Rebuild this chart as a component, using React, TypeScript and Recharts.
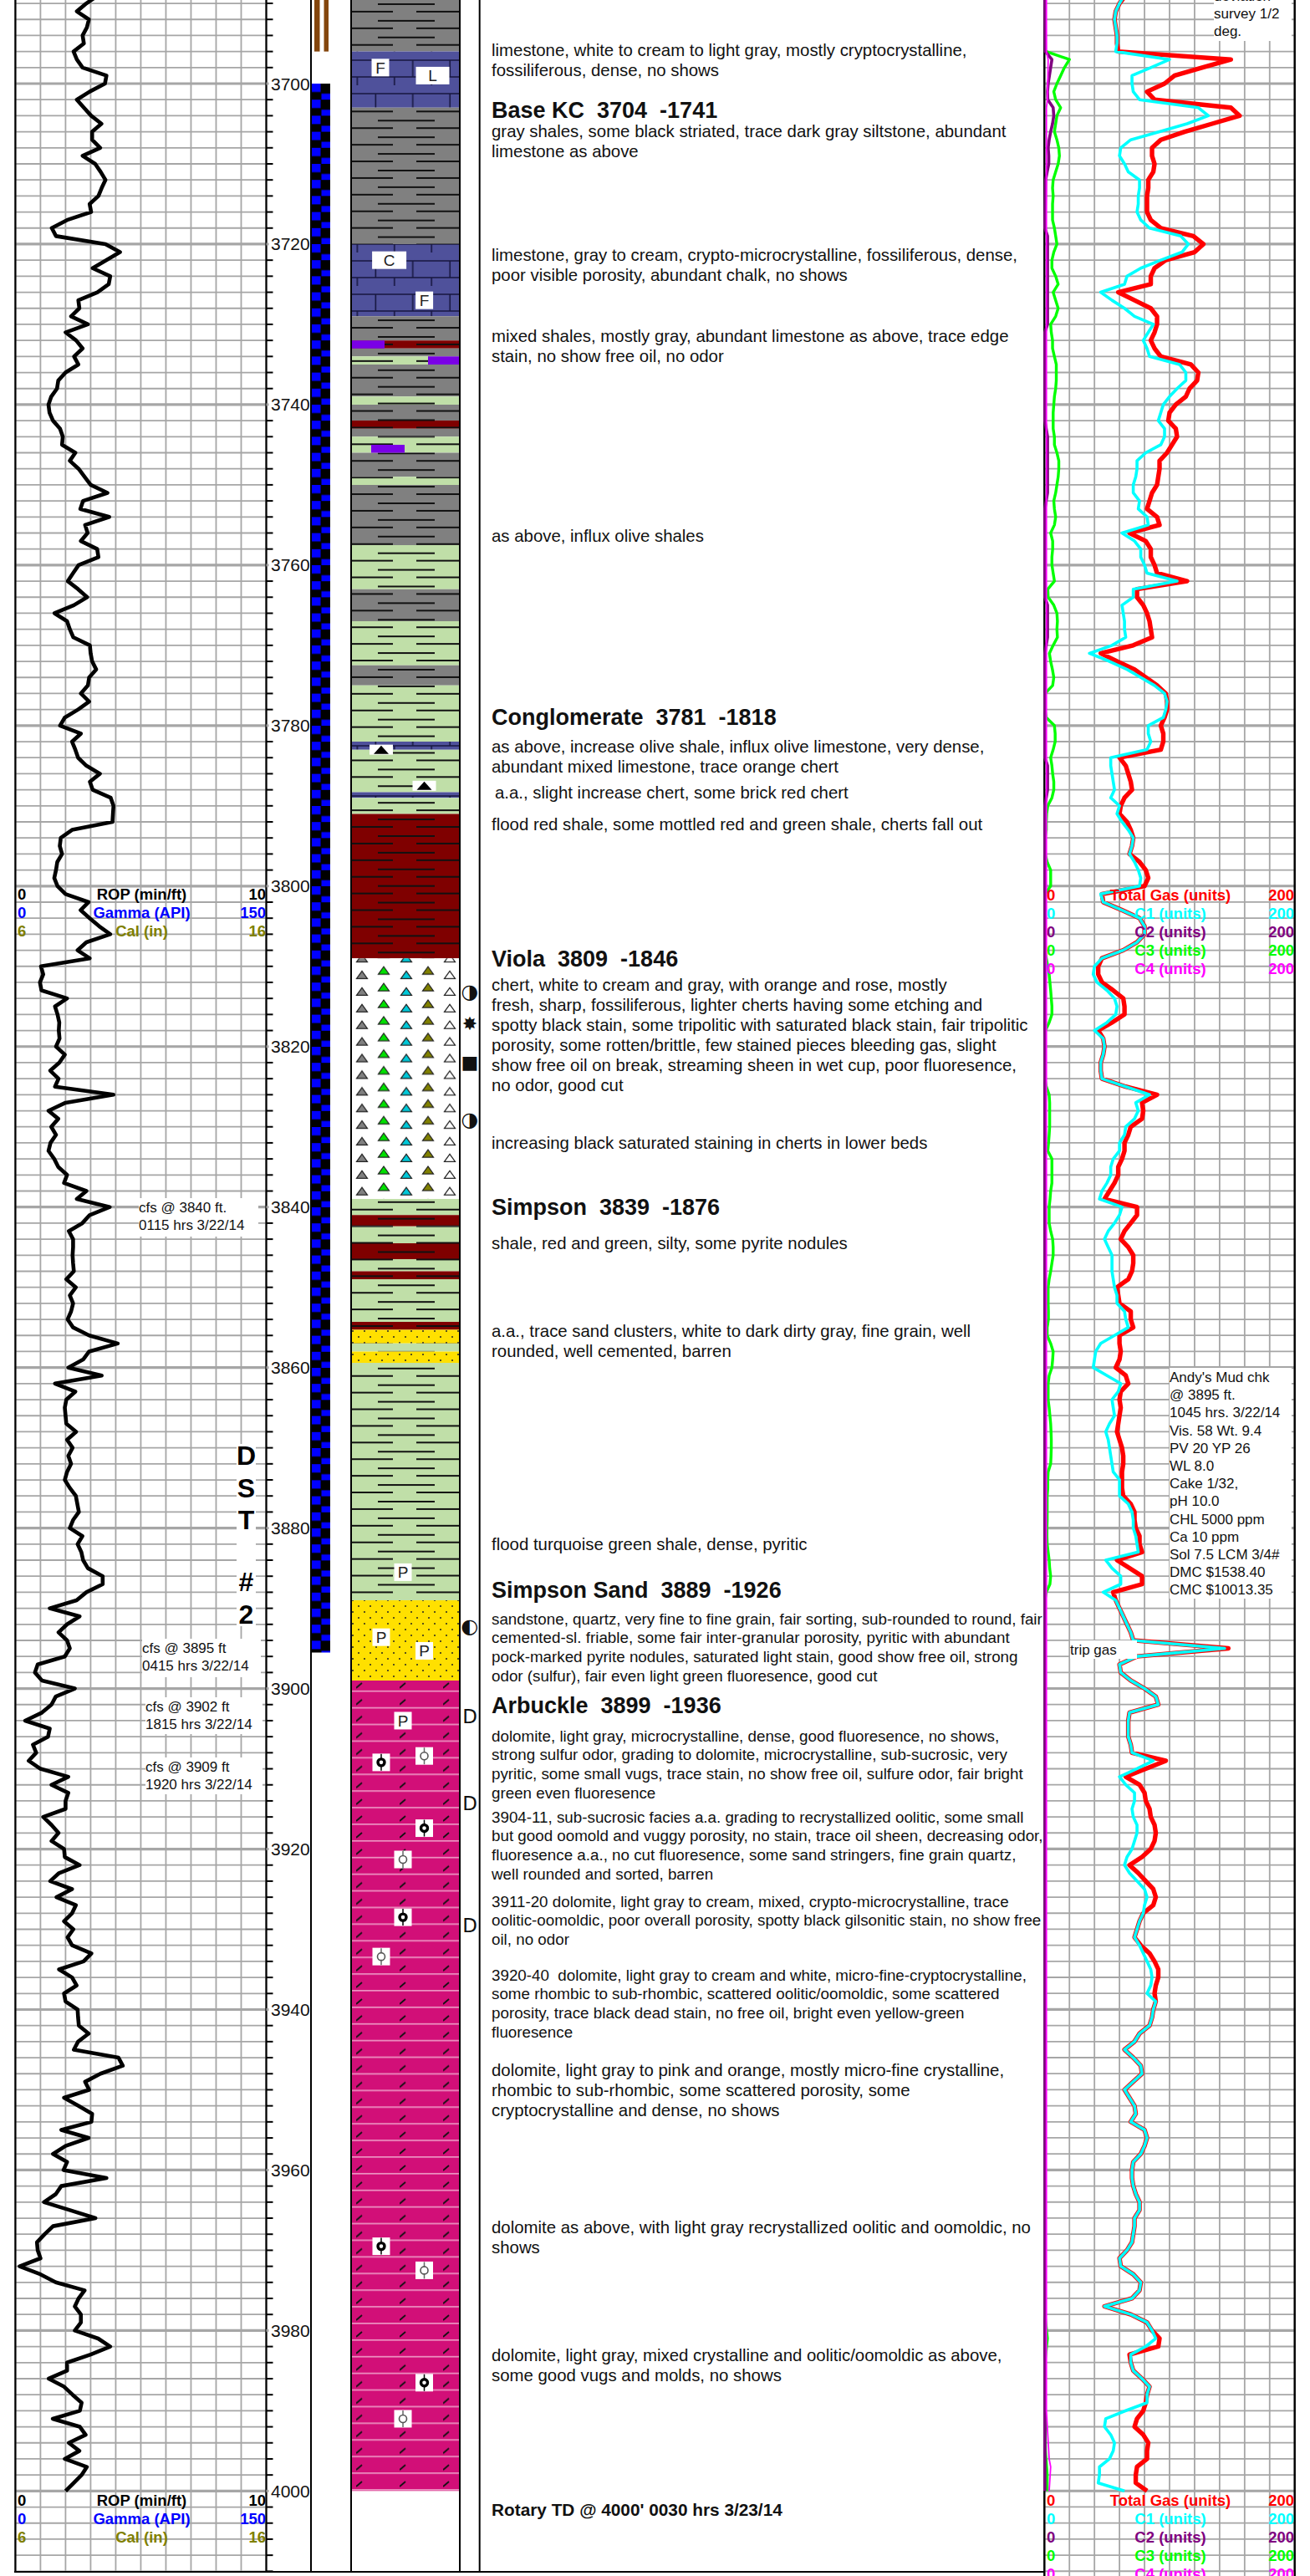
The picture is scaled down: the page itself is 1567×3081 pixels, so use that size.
import {
  CartesianGrid,
  Line,
  LineChart,
  ReferenceArea,
  ReferenceDot,
  ReferenceLine,
  XAxis,
  YAxis,
} from "recharts";

// one value per foot, first value is at the given start depth
const ropStart = 3689;
const rop = [
  3.3,
  2.83, 2.45, 2.93, 2.85, 2.68, 2.73, 2.32, 2.45, 2.68, 3.63,
  3.57, 2.96, 2.45, 2.73, 3.02, 3.43, 3.06, 3.06, 3.38, 2.68,
  3.18, 3.4, 3.59, 3.44, 3.31, 2.96, 3.02, 2.06, 1.45, 1.62,
  3.59, 4.17, 3.62, 3.08, 3.78, 3.72, 3.27, 2.51, 2.55, 2.22,
  2.89, 2.0, 2.42, 2.68, 2.34, 2.51, 2.0, 1.71, 1.66, 1.43,
  1.32, 1.36, 1.5, 1.78, 1.89, 1.86, 2.39, 2.17, 2.52, 2.76,
  3.0, 3.67, 2.7, 2.59, 3.74, 2.78, 2.88, 2.61, 3.26, 3.31,
  2.52, 2.3, 2.09, 2.5, 2.86, 2.33, 1.56, 2.06, 2.17, 2.31,
  2.97, 3.0, 3.06, 3.22, 2.94, 2.89, 2.61, 2.94, 2.5, 1.97,
  1.78, 2.61, 2.26, 2.39, 2.5, 2.83, 3.37, 2.97, 3.08, 3.8,
  3.91, 3.89, 3.87, 2.26, 1.81, 1.77, 1.86, 1.67, 1.62, 1.55,
  1.68, 2.0, 2.92, 2.6, 2.96, 3.34, 3.78, 2.83, 2.48, 2.96,
  1.02, 1.11, 0.98, 1.04, 2.06, 1.58, 1.68, 1.75, 1.73, 1.76,
  1.62, 1.97, 1.75, 1.39, 1.72, 1.58, 3.91, 2.0, 1.32, 1.71,
  1.43, 1.62, 1.4, 1.32, 1.55, 1.71, 2.06, 1.94, 2.83, 2.45,
  3.76, 2.96, 2.67, 2.13, 2.3, 2.3, 2.28, 2.3, 2.33, 2.03,
  2.41, 2.17, 2.3, 2.22, 2.08, 2.3, 2.94, 4.08, 2.94, 2.7,
  2.11, 3.44, 1.58, 2.39, 2.03, 1.97, 2.0, 2.03, 2.42, 2.06,
  2.28, 2.11, 2.22, 2.06, 1.97, 2.17, 2.41, 2.47, 2.53, 2.3,
  2.17, 2.67, 2.48, 2.63, 2.7, 2.89, 3.48, 3.48, 2.83, 2.44,
  1.37, 2.56, 2.06, 1.72, 2.06, 2.17, 1.97, 0.89, 0.78, 1.06,
  2.37, 1.61, 1.44, 1.06, 0.39, 1.37, 1.3, 0.7, 0.83, 0.53,
  1.0, 2.11, 1.44, 2.11, 2.0, 2.0, 1.11, 1.44, 1.72, 1.44,
  1.94, 1.97, 2.56, 1.74, 1.39, 2.26, 1.64, 2.41, 2.26, 1.94,
  2.31, 2.08, 2.26, 3.03, 2.72, 1.74, 2.26, 2.44, 1.94, 2.0,
  2.48, 2.5, 2.53, 2.92, 2.5, 2.33, 4.11, 4.28, 3.39, 2.78,
  2.94, 1.94, 2.52, 3.06, 3.03, 1.83, 2.92, 2.0, 1.5, 2.06,
  1.92, 3.63, 1.83, 1.61, 1.14, 2.17, 3.19, 1.5, 1.17, 0.86,
  0.89, 1.0, 0.17, 1.0, 1.61, 2.76, 2.52, 2.37, 2.61, 2.61,
  2.37, 3.3, 3.78, 3.0, 2.06, 2.06, 1.33, 1.94, 2.28, 2.64,
  2.57, 1.49, 2.57, 2.8, 2.13, 2.55, 1.97, 2.85, 2.64, 2.32,
  2.0,
];

const totalGas = [
  65,
  60, 57, 56, 57, 58, 58, 59, 149, 126, 104,
  96, 82, 88, 149, 156, 134, 112, 93, 86, 86,
  88, 87, 83, 83, 82, 82, 82, 85, 93, 119,
  127, 120, 97, 88, 85, 85, 59, 72, 85, 90,
  90, 88, 85, 88, 93, 117, 123, 122, 116, 113,
  105, 100, 99, 105, 106, 102, 98, 92, 92, 91,
  90, 86, 84, 82, 90, 92, 68, 81, 85, 85,
  88, 90, 114, 74, 74, 79, 82, 84, 85, 86,
  71, 45, 58, 72, 81, 90, 97, 98, 98, 96,
  93, 95, 95, 93, 60, 65, 67, 69, 70, 64,
  61, 60, 66, 69, 71, 70, 68, 76, 81, 83,
  80, 46, 47, 62, 76, 80, 80, 74, 63, 46,
  43, 43, 46, 55, 63, 64, 64, 54, 43, 47,
  48, 47, 45, 45, 46, 65, 90, 78, 79, 78,
  69, 67, 64, 64, 62, 59, 59, 56, 52, 48,
  74, 74, 69, 64, 61, 67, 71, 71, 70, 67,
  58, 59, 60, 69, 69, 71, 60, 60, 61, 60,
  57, 65, 67, 61, 60, 61, 60, 59, 58, 60,
  62, 63, 63, 62, 62, 62, 63, 69, 72, 72,
  73, 76, 76, 78, 58, 68, 78, 78, 55, 57,
  60, 63, 66, 69, 71, 147, 74, 60, 61, 69,
  80, 89, 91, 68, 67, 67, 67, 69, 70, 97,
  81, 65, 76, 80, 81, 84, 85, 88, 89, 88,
  85, 78, 68, 75, 81, 87, 89, 87, 79, 76,
  74, 72, 77, 84, 88, 91, 91, 89, 88, 89,
  87, 86, 84, 76, 72, 64, 71, 77, 78, 71,
  64, 68, 72, 73, 69, 80, 82, 80, 77, 71,
  70, 70, 71, 73, 76, 76, 72, 72, 71, 70,
  66, 60, 61, 71, 77, 76, 70, 48, 69, 82,
  86, 92, 91, 68, 69, 71, 78, 84, 82, 81,
  79, 74, 72, 79, 83, 82, 82, 74, 73, 73,
  82,
];

const c1 = [
  64,
  60, 57, 56, 57, 58, 58, 57, 100, 85, 70,
  70, 71, 76, 123, 131, 114, 92, 69, 61, 60,
  64, 67, 76, 76, 75, 75, 74, 77, 84, 109,
  115, 110, 93, 77, 66, 64, 45, 54, 64, 72,
  87, 83, 79, 82, 84, 108, 113, 113, 106, 100,
  95, 93, 91, 96, 96, 93, 81, 74, 74, 73,
  71, 71, 76, 75, 82, 83, 62, 72, 77, 77,
  80, 82, 106, 71, 71, 62, 63, 64, 64, 65,
  54, 36, 52, 66, 77, 88, 96, 98, 97, 95,
  83, 83, 85, 82, 53, 53, 54, 55, 56, 53,
  60, 58, 62, 67, 71, 70, 68, 72, 75, 77,
  76, 45, 47, 62, 76, 80, 80, 74, 63, 46,
  40, 39, 42, 50, 56, 58, 57, 50, 40, 47,
  48, 47, 45, 45, 46, 65, 84, 73, 75, 72,
  65, 64, 60, 60, 55, 53, 53, 50, 46, 44,
  62, 60, 56, 51, 48, 51, 54, 54, 54, 55,
  56, 58, 58, 64, 65, 67, 56, 45, 41, 40,
  39, 50, 61, 59, 54, 55, 56, 52, 49, 51,
  52, 53, 54, 55, 60, 60, 60, 67, 70, 71,
  71, 73, 74, 75, 49, 54, 61, 61, 47, 57,
  60, 63, 66, 69, 71, 144, 74, 60, 61, 69,
  80, 89, 91, 68, 67, 67, 67, 69, 70, 87,
  74, 60, 65, 72, 72, 70, 71, 74, 74, 72,
  70, 66, 64, 68, 74, 80, 82, 80, 79, 76,
  74, 72, 76, 79, 82, 85, 86, 85, 82, 89,
  87, 86, 84, 76, 72, 64, 71, 77, 78, 71,
  64, 68, 72, 73, 69, 80, 82, 80, 77, 71,
  70, 70, 71, 73, 76, 76, 72, 72, 71, 70,
  66, 60, 61, 71, 77, 76, 70, 48, 69, 82,
  86, 89, 81, 69, 69, 71, 78, 84, 82, 82,
  65, 49, 48, 53, 56, 55, 52, 44, 44, 43,
  64,
];

const c3Start = 3696;
const c3 = [
  1.5, 20, 16, 13,
  10, 7.5, 9, 13, 10, 9, 8, 10, 11.5, 12,
  11, 9, 7, 6.5, 7, 6.5, 6.5, 6.5, 8, 9,
  10, 7.5, 6, 6, 9, 11, 7, 9, 11, 9,
  5, 5.5, 6.5, 6.5, 8, 9.5, 9.5, 9.5, 9, 8,
  7.5, 7, 7, 7, 8, 8, 10, 11.5, 11.5, 11,
  10, 9, 7.5, 8, 9, 8, 5, 6.6, 6.6, 6,
  6, 7, 8, 2.7, 3, 7.5, 10, 10.4, 10, 10.4,
  7, 4, 5, 6.4, 7.5, 6.6, 0.6, 0.4, 0.4, 1.5,
  8, 8.6, 8.6, 7, 5, 6, 6.6, 7.5, 7.5, 6,
  2.7, 1.8, 1.5, 1.5, 0.6, 0.6, 0.6, 2.2, 5, 5,
  5, 0.4, 0.4, 0.4, 0.4, 0.4, 0.4, 0.4, 0.4, 1.5,
  2.7, 3.8, 4.4, 5, 5.5, 6, 6, 3.8, 0.8, 0.4,
  0.4, 0.4, 0.4, 0.4, 0.4, 1.5, 3.8, 4.2, 4.2, 4.2,
  4.2, 3.8, 3.3, 2.7, 6, 6, 6, 6, 5, 4.5,
  3.8, 3.8, 3.8, 5, 6.6, 7, 7, 6, 5, 3.8,
  3, 3, 3, 3.2, 3.2, 2.2, 2.2, 5, 7, 6.6,
  6, 3.8, 3, 3, 3, 3.8, 4.4, 5, 5.3, 5.5,
  5.5, 5.3, 5, 3, 2.7, 2.7, 2.2, 2.2, 2.2, 2.2,
  2, 2, 2.2, 3, 3.8, 4.2, 5, 4.4, 1.5,
];
const c3TailDepths = [3889, 3978, 3981, 3984, 3995, 3998, 4000];
const c3TailValues = [0.4, 0.4, 2.4, 0.4, 0.8, 2.2, 2.2];

const c2Depths = [3689, 3696, 3697, 3698, 3699, 3700, 3701, 3702, 3703, 3704, 3705, 3706, 3707, 3708, 3709, 3710, 3711, 3712, 3718, 3719, 3730, 3731, 3742, 3744, 3751, 3753, 3764, 3765, 3769, 3771, 3784, 3785, 3788, 3790, 4000];
const c2Values = [0.4, 0.8, 6, 5, 4, 3, 2.5, 2.7, 7, 7.5, 6.5, 5, 3.8, 3, 3.5, 3.5, 2.2, 1, 0.4, 2.5, 2.5, 0.4, 0.4, 2.5, 2.5, 0.4, 0.4, 2.5, 2.5, 0.4, 0.4, 2.5, 2.5, 0.4, 0.4];

const c4Depths = [3689, 3696, 3697, 3702, 3703, 3990, 3993, 3996, 3997, 4000];
const c4Values = [1.6, 1.6, 3, 2.4, 1.6, 1.6, 2.7, 3.8, 5, 3.8];

const lithoBeds = [
  { top: 3689.58, base: 3696, rock: "shaleGray" },
  { top: 3696, base: 3703, rock: "lime" },
  { top: 3703, base: 3720, rock: "shaleGray" },
  { top: 3720, base: 3729, rock: "lime" },
  { top: 3729, base: 3732, rock: "shaleGray" },
  { top: 3732, base: 3733, rock: "shaleRed" },
  { top: 3733, base: 3734, rock: "shaleGray" },
  { top: 3734, base: 3735, rock: "shaleGreen" },
  { top: 3735, base: 3739, rock: "shaleGray" },
  { top: 3739, base: 3740, rock: "shaleGreen" },
  { top: 3740, base: 3742, rock: "shaleGray" },
  { top: 3742, base: 3743, rock: "shaleRed" },
  { top: 3743, base: 3744, rock: "shaleGray" },
  { top: 3744, base: 3746, rock: "shaleGreen" },
  { top: 3746, base: 3749, rock: "shaleGray" },
  { top: 3749, base: 3750, rock: "shaleGreen" },
  { top: 3750, base: 3757.5, rock: "shaleGray" },
  { top: 3757.5, base: 3763, rock: "shaleGreen" },
  { top: 3763, base: 3767, rock: "shaleGray" },
  { top: 3767, base: 3772.5, rock: "shaleGreen" },
  { top: 3772.5, base: 3775, rock: "shaleGray" },
  { top: 3775, base: 3782, rock: "shaleGreen" },
  { top: 3782, base: 3783, rock: "lime" },
  { top: 3783, base: 3788.3, rock: "shaleGreen" },
  { top: 3788.3, base: 3789, rock: "lime" },
  { top: 3789, base: 3791, rock: "shaleGreen" },
  { top: 3791, base: 3809, rock: "shaleRed" },
  { top: 3809, base: 3839, rock: "chert" },
  { top: 3839, base: 3841, rock: "shaleGreen" },
  { top: 3841, base: 3842.4, rock: "shaleRed" },
  { top: 3842.4, base: 3844.5, rock: "shaleGreen" },
  { top: 3844.5, base: 3846.5, rock: "shaleRed" },
  { top: 3846.5, base: 3848, rock: "shaleGreen" },
  { top: 3848, base: 3849, rock: "shaleRed" },
  { top: 3849, base: 3854.3, rock: "shaleGreen" },
  { top: 3854.3, base: 3855.3, rock: "shaleRed" },
  { top: 3855.3, base: 3857, rock: "sand" },
  { top: 3857, base: 3858, rock: "shaleGreen" },
  { top: 3858, base: 3859.4, rock: "sand" },
  { top: 3859.4, base: 3889, rock: "shaleGreen" },
  { top: 3889, base: 3899, rock: "sand" },
  { top: 3899, base: 4000, rock: "dolomite" },
];

const cherts = [
  { top: 3732, base: 3733, from: 48, to: 88 },
  { top: 3734, base: 3735, from: 140, to: 178 },
  { top: 3745, base: 3746, from: 72, to: 112 },
];

const letterBoxes = [
  { depth: 3698, at: 83, text: "F", w: 21 },
  { depth: 3699, at: 145.5, text: "L", w: 40 },
  { depth: 3722, at: 93.6, text: "C", w: 41 },
  { depth: 3727, at: 135.6, text: "F", w: 21 },
  { depth: 3885.5, at: 110, text: "P", w: 21 },
  { depth: 3893.6, at: 84, text: "P", w: 21 },
  { depth: 3895.3, at: 135.5, text: "P", w: 21 },
  { depth: 3904, at: 110, text: "P", w: 21 },
];

const oolites = [
  { depth: 3909.2, at: 84, solid: true },
  { depth: 3908.4, at: 135.5, solid: false },
  { depth: 3917.4, at: 135.5, solid: true },
  { depth: 3921.3, at: 110, solid: false },
  { depth: 3928.5, at: 110, solid: true },
  { depth: 3933.4, at: 84, solid: false },
  { depth: 3969.5, at: 84, solid: true },
  { depth: 3972.5, at: 135.5, solid: false },
  { depth: 3986.5, at: 135.5, solid: true },
  { depth: 3991, at: 110, solid: false },
];

const pebbles = [
  { depth: 3783, at: 84 },
  { depth: 3787.5, at: 135.5 },
];

const showMarks = [
  { depth: 3813.1, text: "◑", size: 24 },
  { depth: 3817.1, text: "✸", size: 22 },
  { depth: 3821.9, text: "■", size: 22 },
  { depth: 3829, text: "◑", size: 24 },
  { depth: 3892.2, text: "◐", size: 24 },
  { depth: 3903.5, text: "D", size: 23 },
  { depth: 3914.3, text: "D", size: 23 },
  { depth: 3929.5, text: "D", size: 23 },
];

const ropLegend = [
  { name: "ROP (min/ft)", min: "0", max: "10", color: "#000000" },
  { name: "Gamma (API)", min: "0", max: "150", color: "#0000ff" },
  { name: "Cal (in)", min: "6", max: "16", color: "#808000" },
];
const gasLegend = [
  { name: "Total Gas (units)", min: "0", max: "200", color: "#ff0000" },
  { name: "C1 (units)", min: "0", max: "200", color: "#00ffff" },
  { name: "C2 (units)", min: "0", max: "200", color: "#800080" },
  { name: "C3 (units)", min: "0", max: "200", color: "#00ff00" },
  { name: "C4 (units)", min: "0", max: "200", color: "#ff00ff" },
];

const descriptions = [
  { y: 60, lines: ["limestone, white to cream to light gray, mostly cryptocrystalline,", "fossiliferous, dense, no shows"] },
  { y: 131.5, head: "Base KC  3704  -1741" },
  { y: 156.5, lines: ["gray shales, some black striated, trace dark gray siltstone, abundant", "limestone as above"] },
  { y: 305, lines: ["limestone, gray to cream, crypto-microcrystalline, fossiliferous, dense,", "poor visible porosity, abundant chalk, no shows"] },
  { y: 401.5, lines: ["mixed shales, mostly gray, abundant limestone as above, trace edge", "stain, no show free oil, no odor"] },
  { y: 641, lines: ["as above, influx olive shales"] },
  { y: 858, head: "Conglomerate  3781  -1818" },
  { y: 893, lines: ["as above, increase olive shale, influx olive limestone, very dense,", "abundant mixed limestone, trace orange chert"] },
  { y: 948, x: 592, lines: ["a.a., slight increase chert, some brick red chert"] },
  { y: 985.5, lines: ["flood red shale, some mottled red and green shale, cherts fall out"] },
  { y: 1147, head: "Viola  3809  -1846" },
  { y: 1178, lines: ["chert, white to cream and gray, with orange and rose, mostly", "fresh, sharp, fossiliferous, lighter cherts having some etching and", "spotty black stain, some tripolitic with saturated black stain, fair tripolitic", "porosity, some rotten/brittle, few stained pieces bleeding gas, slight", "show free oil on break, streaming sheen in wet cup, poor fluoresence,", "no odor, good cut"] },
  { y: 1366.5, lines: ["increasing black saturated staining in cherts in lower beds"] },
  { y: 1443.5, head: "Simpson  3839  -1876" },
  { y: 1487, lines: ["shale, red and green, silty, some pyrite nodules"] },
  { y: 1592, lines: ["a.a., trace sand clusters, white to dark dirty gray, fine grain, well", "rounded, well cemented, barren"] },
  { y: 1847, lines: ["flood turquoise green shale, dense, pyritic"] },
  { y: 1902, head: "Simpson Sand  3889  -1926" },
  { y: 1937, small: true, lines: ["sandstone, quartz, very fine to fine grain, fair sorting, sub-rounded to round, fair", "cemented-sl. friable, some fair inter-granular porosity, pyritic with abundant", "pock-marked pyrite nodules, saturated light stain, good show free oil, strong", "odor (sulfur), fair even light green fluoresence, good cut"] },
  { y: 2040, head: "Arbuckle  3899  -1936" },
  { y: 2077, small: true, lines: ["dolomite, light gray, microcrystalline, dense, good fluoresence, no shows,", "strong sulfur odor, grading to dolomite, microcrystalline, sub-sucrosic, very", "pyritic, some small vugs, trace stain, no show free oil, sulfure odor, fair bright", "green even fluoresence"] },
  { y: 2174, small: true, lines: ["3904-11, sub-sucrosic facies a.a. grading to recrystallized oolitic, some small", "but good oomold and vuggy porosity, no stain, trace oil sheen, decreasing odor,", "fluoresence a.a., no cut fluoresence, some sand stringers, fine grain quartz,", "well rounded and sorted, barren"] },
  { y: 2275, small: true, lines: ["3911-20 dolomite, light gray to cream, mixed, crypto-microcrystalline, trace", "oolitic-oomoldic, poor overall porosity, spotty black gilsonitic stain, no show free", "oil, no odor"] },
  { y: 2363, small: true, lines: ["3920-40  dolomite, light gray to cream and white, micro-fine-cryptocrystalline,", "some rhombic to sub-rhombic, scattered oolitic/oomoldic, some scattered", "porosity, trace black dead stain, no free oil, bright even yellow-green", "fluoresence"] },
  { y: 2476, lines: ["dolomite, light gray to pink and orange, mostly micro-fine crystalline,", "rhombic to sub-rhombic, some scattered porosity, some", "cryptocrystalline and dense, no shows"] },
  { y: 2664, lines: ["dolomite as above, with light gray recrystallized oolitic and oomoldic, no", "shows"] },
  { y: 2817, lines: ["dolomite, light gray, mixed crystalline and oolitic/oomoldic as above,", "some good vugs and molds, no shows"] },
  { y: 3002, bold: true, lines: ["Rotary TD @ 4000' 0030 hrs 3/23/14"] },
];

const noteBoxes = [
  { x: 166, y: 1433, w: 143, h: 45, lines: ["cfs @ 3840 ft.", "0115 hrs 3/22/14"] },
  { x: 170, y: 1960, w: 142, h: 45, lines: ["cfs @ 3895 ft", "0415 hrs 3/22/14"] },
  { x: 174, y: 2030, w: 140, h: 43, lines: ["cfs @ 3902 ft", "1815 hrs 3/22/14"] },
  { x: 174, y: 2102, w: 140, h: 43, lines: ["cfs @ 3909 ft", "1920 hrs 3/22/14"] },
  { x: 1280, y: 1962, w: 80, h: 21, lines: ["trip gas"] },
  { x: 1452, y: -16, w: 93, h: 64, lines: ["deviation", "survey 1/2", "deg."] },
  {
    x: 1399,
    y: 1636,
    w: 146,
    h: 275,
    lines: ["Andy's Mud chk", "@ 3895 ft.", "1045 hrs. 3/22/14", "Vis. 58 Wt. 9.4", "PV 20 YP 26", "WL 8.0", "Cake 1/32,", "pH 10.0", "CHL 5000 ppm", "Ca 10 ppm", "Sol 7.5 LCM 3/4#", "DMC $1538.40", "CMC $10013.35"],
  },
];

const dstLetters = ["D", "S", "T", "", "#", "2"];

const depthTicks = Array.from({ length: 161 }, (_, i) => 3690 + i * 2);
const heavyDepths = depthTicks.filter((d) => d % 20 === 0 && d <= 4000);
const ropTicks = [0, 1, 2, 3, 4, 5, 6, 7, 8, 9, 10];
const gasTicks = [0, 20, 40, 60, 80, 100, 120, 140, 160, 180, 200];

const toRows = (start: number, values: number[]) =>
  values.map((value, i) => ({ depth: start + i, value }));
const zipRows = (depths: number[], values: number[]) =>
  depths.map((depth, i) => ({ depth, value: values[i] }));

const FONT = '"Liberation Sans", Arial, sans-serif';
const GRID = "#a6a6a6";
const TOP_DEPTH = 3689.58;
const PAGE_H = 3081;
const TILE = 19.9;

const BlankTick = () => <g />;

function DepthTick({ x, y, payload }: any) {
  const d = payload.value;
  const labelled = d % 20 === 0;
  return (
    <g>
      <line
        x1={x}
        x2={x + (labelled ? 3 : 8)}
        y1={y}
        y2={y}
        stroke={labelled ? GRID : "#000"}
        strokeWidth={labelled ? 3 : 2}
      />
      {labelled && (
        <text x={x + 5.5} y={y + 7.5} fontSize={21} fontFamily={FONT} fill="#111">
          {d}
        </text>
      )}
    </g>
  );
}

function ShaleTile({ id, fill }: { id: string; fill: string }) {
  return (
    <pattern id={id} width={130} height={TILE} patternUnits="userSpaceOnUse" patternTransform="translate(50 0)">
      <rect width={130} height={TILE} fill={fill} />
      <line x1={32} x2={100} y1={5} y2={5} stroke="#111" strokeWidth={2} />
      <line x1={0} x2={50} y1={14} y2={14} stroke="#111" strokeWidth={2} />
      <line x1={78} x2={130} y1={14} y2={14} stroke="#111" strokeWidth={2} />
    </pattern>
  );
}

function Tri({ x, y, fill }: { x: number; y: number; fill: string }) {
  return <path d={`M${x - 6.5} ${y + 4.5} L${x} ${y - 4.5} L${x + 6.5} ${y + 4.5} Z`} fill={fill} stroke="#222" strokeWidth={1.2} />;
}

function Patterns() {
  return (
    <svg width={0} height={0} style={{ position: "absolute" }}>
      <defs>
        <ShaleTile id="shaleGray" fill="#808080" />
        <ShaleTile id="shaleRed" fill="#7f0000" />
        <ShaleTile id="shaleGreen" fill="#c0dfa8" />
        <pattern id="lime" width={44.4} height={40} patternUnits="userSpaceOnUse" patternTransform="translate(13 0)">
          <rect width={44.4} height={40} fill="#4f519b" />
          <line x1={0} x2={44.4} y1={12} y2={12} stroke="#16163f" strokeWidth={1.6} />
          <line x1={0} x2={44.4} y1={32} y2={32} stroke="#16163f" strokeWidth={1.6} />
          <line x1={22} x2={22} y1={0} y2={12} stroke="#16163f" strokeWidth={1.6} />
          <line x1={0} x2={0} y1={12} y2={22} stroke="#16163f" strokeWidth={1.6} />
          <line x1={44.4} x2={44.4} y1={12} y2={22} stroke="#16163f" strokeWidth={1.6} />
          <line x1={22} x2={22} y1={32} y2={40} stroke="#16163f" strokeWidth={1.6} />
        </pattern>
        <pattern id="chert" width={130} height={TILE} patternUnits="userSpaceOnUse" patternTransform="translate(50 0)">
          <rect width={130} height={TILE} fill="#fff" />
          <Tri x={13} y={11.8} fill="#808080" />
          <Tri x={39} y={6.5} fill="#00e000" />
          <Tri x={66} y={11.8} fill="#00c8d8" />
          <Tri x={92} y={6.5} fill="#808000" />
          <Tri x={118} y={11.8} fill="#ffffff" />
        </pattern>
        <pattern id="sand" width={14} height={14} patternUnits="userSpaceOnUse">
          <rect width={14} height={14} fill="#ffe000" />
          <circle cx={3} cy={3} r={1} fill="#222" />
          <circle cx={10} cy={10} r={1} fill="#222" />
        </pattern>
        <pattern id="dolomite" width={52} height={TILE} patternUnits="userSpaceOnUse" patternTransform="translate(56 0)">
          <rect width={52} height={TILE} fill="#d20f78" />
          <line x1={0} x2={52} y1={12.8} y2={12.8} stroke="#f6c3dd" strokeWidth={1.4} />
          <line x1={0} x2={7} y1={9} y2={3} stroke="#111" strokeWidth={1.8} />
        </pattern>
        <pattern id="dst" width={23} height={19.2} patternUnits="userSpaceOnUse" patternTransform="translate(2 100)">
          <rect width={23} height={19.2} fill="#000" />
          <rect x={1} y={0} width={10.5} height={10} fill="#0000ff" />
          <rect x={12.5} y={12} width={10.5} height={7.2} fill="#0000ff" />
        </pattern>
      </defs>
    </svg>
  );
}

function LetterBox({ cx, cy, text, w }: any) {
  return (
    <g>
      <rect x={cx - w / 2} y={cy - 10.5} width={w} height={21} fill="#fff" />
      <text x={cx} y={cy + 7} textAnchor="middle" fontSize={19} fontFamily={FONT} fill="#222">
        {text}
      </text>
    </g>
  );
}

function OoliteBox({ cx, cy, solid }: any) {
  return (
    <g>
      <rect x={cx - 10.5} y={cy - 10.5} width={21} height={21} fill="#fff" />
      <line x1={cx} x2={cx} y1={cy - 10} y2={cy + 10} stroke={solid ? "#000" : "#666"} strokeWidth={1.5} />
      <circle cx={cx} cy={cy} r={solid ? 4 : 4.5} fill="#fff" stroke={solid ? "#000" : "#555"} strokeWidth={solid ? 3.4 : 1.6} />
    </g>
  );
}

function PebbleBox({ cx, cy }: any) {
  return (
    <g>
      <rect x={cx - 14} y={cy - 6} width={28} height={12} fill="#fff" />
      <path d={`M${cx - 9} ${cy + 5} L${cx} ${cy - 5} L${cx + 9} ${cy + 5} Z`} fill="#000" />
    </g>
  );
}

function ShowMark({ cx, cy, text, size }: any) {
  return (
    <text x={cx} y={cy + size * 0.36} textAnchor="middle" fontSize={size} fontFamily='"DejaVu Sans", sans-serif' fill="#111">
      {text}
    </text>
  );
}

function RopTrack() {
  return (
    <div style={{ position: "absolute", left: 0, top: 0 }}>
      <LineChart
        layout="vertical"
        width={380}
        height={PAGE_H}
        data={toRows(ropStart, rop)}
        margin={{ top: 0, right: 8, bottom: 5, left: 18.4 }}
      >
        <CartesianGrid stroke={GRID} strokeWidth={1.8} verticalValues={ropTicks} horizontalValues={depthTicks} />
        <XAxis type="number" domain={[0, 10]} ticks={ropTicks} interval={0} height={0} tick={BlankTick} axisLine={false} tickLine={false} />
        <YAxis
          type="number"
          dataKey="depth"
          orientation="right"
          domain={[TOP_DEPTH, 4010.07]}
          ticks={depthTicks}
          interval={0}
          width={53.5}
          tickSize={0}
          tickMargin={0}
          tick={DepthTick}
          axisLine={{ stroke: "#000", strokeWidth: 2.2 }}
          tickLine={false}
          allowDataOverflow
        />
        {heavyDepths.map((d) => (
          <ReferenceLine key={d} y={d} stroke={GRID} strokeWidth={3.2} />
        ))}
        <ReferenceLine x={0} stroke="#000" strokeWidth={2.2} />
        <Line dataKey="value" type="linear" stroke="#000" strokeWidth={4.6} strokeLinejoin="round" dot={false} isAnimationActive={false} />
      </LineChart>
    </div>
  );
}

function GasTrack() {
  return (
    <div style={{ position: "absolute", left: 1240, top: 0 }}>
      <LineChart
        layout="vertical"
        width={320}
        height={PAGE_H}
        data={toRows(ropStart, totalGas)}
        margin={{ top: 0, right: 11.3, bottom: 0, left: 9.3 }}
      >
        <CartesianGrid stroke={GRID} strokeWidth={1.8} verticalValues={gasTicks} horizontalValues={depthTicks} />
        <XAxis type="number" domain={[0, 200]} ticks={gasTicks} interval={0} height={0} tick={BlankTick} axisLine={false} tickLine={false} />
        <YAxis
          type="number"
          dataKey="depth"
          domain={[TOP_DEPTH, 4010.6]}
          ticks={depthTicks}
          interval={0}
          width={0}
          tick={BlankTick}
          axisLine={false}
          tickLine={false}
          allowDataOverflow
        />
        {heavyDepths.map((d) => (
          <ReferenceLine key={d} y={d} stroke={GRID} strokeWidth={3.2} />
        ))}
        <ReferenceLine x={0} stroke="#000" strokeWidth={2.4} />
        <ReferenceLine x={200} stroke="#000" strokeWidth={2.4} />
        <Line data={toRows(ropStart, totalGas)} dataKey="value" type="linear" stroke="#ff0000" strokeWidth={5.4} strokeLinejoin="round" dot={false} isAnimationActive={false} />
        <Line data={toRows(ropStart, c1)} dataKey="value" type="linear" stroke="#00ffff" strokeWidth={3.6} strokeLinejoin="round" dot={false} isAnimationActive={false} />
        <Line
          data={[...toRows(c3Start, c3), ...zipRows(c3TailDepths, c3TailValues)]}
          dataKey="value"
          type="linear"
          stroke="#00ff00"
          strokeWidth={3.4}
          strokeLinejoin="round"
          dot={false}
          isAnimationActive={false}
        />
        <Line data={zipRows(c2Depths, c2Values)} dataKey="value" type="linear" stroke="#800080" strokeWidth={3.6} strokeLinejoin="round" dot={false} isAnimationActive={false} />
        <Line data={zipRows(c4Depths, c4Values)} dataKey="value" type="linear" stroke="#ff00ff" strokeWidth={1.8} strokeLinejoin="round" dot={false} isAnimationActive={false} />
      </LineChart>
    </div>
  );
}

function LithoTrack() {
  const rows = zipRows([3690, 4000], [0, 0]);
  return (
    <div style={{ position: "absolute", left: 370, top: 0 }}>
      <LineChart
        layout="vertical"
        width={206}
        height={PAGE_H}
        data={rows}
        margin={{ top: 0, right: 2, bottom: 5, left: 2 }}
      >
        <XAxis type="number" domain={[0, 202]} height={0} tick={BlankTick} axisLine={false} tickLine={false} />
        <YAxis type="number" dataKey="depth" domain={[TOP_DEPTH, 4010.07]} width={0} tick={BlankTick} axisLine={false} tickLine={false} allowDataOverflow />
        <Line dataKey="value" stroke="none" dot={false} isAnimationActive={false} />
        <ReferenceArea x1={0} x2={23} y1={3700} y2={3895.5} fill="url(#dst)" fillOpacity={1} stroke="none" />
        <ReferenceArea x1={4} x2={10.5} y1={TOP_DEPTH} y2={3696} fill="#84460d" fillOpacity={1} stroke="none" />
        <ReferenceArea x1={15.5} x2={21} y1={TOP_DEPTH} y2={3696} fill="#84460d" fillOpacity={1} stroke="none" />
        {lithoBeds.map((b) => (
          <ReferenceArea
            key={b.top}
            x1={48}
            x2={178}
            y1={b.top}
            y2={b.base}
            fill={`url(#${b.rock})`}
            fillOpacity={1}
            stroke="none"
          />
        ))}
        {cherts.map((c) => (
          <ReferenceArea key={c.top} x1={c.from} x2={c.to} y1={c.top} y2={c.base} fill="#7a00e6" fillOpacity={1} stroke="none" />
        ))}
        {letterBoxes.map((b) => (
          <ReferenceDot
            key={b.depth}
            x={b.at}
            y={b.depth}
            r={1}
            shape={(p: any) => <LetterBox cx={p.cx} cy={p.cy} text={b.text} w={b.w} />}
          />
        ))}
        {oolites.map((o) => (
          <ReferenceDot
            key={o.depth}
            x={o.at}
            y={o.depth}
            r={1}
            shape={(p: any) => <OoliteBox cx={p.cx} cy={p.cy} solid={o.solid} />}
          />
        ))}
        {pebbles.map((o) => (
          <ReferenceDot key={o.depth} x={o.at} y={o.depth} r={1} shape={(p: any) => <PebbleBox cx={p.cx} cy={p.cy} />} />
        ))}
        {showMarks.map((m) => (
          <ReferenceDot
            key={m.depth}
            x={190}
            y={m.depth}
            r={1}
            shape={(p: any) => <ShowMark cx={p.cx} cy={p.cy} text={m.text} size={m.size} />}
          />
        ))}
        <ReferenceLine x={0} stroke="#000" strokeWidth={2} />
        <ReferenceLine x={48} stroke="#000" strokeWidth={2} />
        <ReferenceLine x={178} stroke="#000" strokeWidth={2} />
        <ReferenceLine x={201.7} stroke="#000" strokeWidth={2} />
      </LineChart>
    </div>
  );
}

function TrackLegend({ items, y, left, right }: any) {
  return items.map((item: any, i: number) => (
    <div
      key={item.name}
      style={{
        position: "absolute",
        left,
        width: right - left,
        top: y + i * 22 - 11,
        height: 22,
        lineHeight: "22px",
        fontFamily: FONT,
        fontWeight: 700,
        fontSize: 18.5,
        color: item.color,
        display: "flex",
        justifyContent: "space-between",
      }}
    >
      <span>{item.min}</span>
      <span style={{ position: "absolute", left: 0, right: 0, textAlign: "center" }}>{item.name}</span>
      <span>{item.max}</span>
    </div>
  ));
}

export default function App() {
  return (
    <div style={{ position: "absolute", left: 0, top: 0, width: 1567, height: PAGE_H, overflow: "hidden", background: "#fff" }}>
      <Patterns />
      <RopTrack />
      <LithoTrack />
      <GasTrack />
      <TrackLegend items={ropLegend} y={1070} left={21} right={318} />
      <TrackLegend items={ropLegend} y={2990.5} left={21} right={318} />
      <TrackLegend items={gasLegend} y={1070.5} left={1252} right={1548} />
      <TrackLegend items={gasLegend} y={2990.5} left={1252} right={1548} />
      <div style={{ position: "absolute", left: 17, top: 3075, width: 1233, height: 2.4, background: "#000" }} />
      <div style={{ position: "absolute", left: 283, top: 1727, width: 23, height: 218, background: "#fff" }} />
      <div style={{ position: "absolute", left: 283, top: 1722, width: 23, textAlign: "center", fontFamily: FONT, fontWeight: 700, fontSize: 32, lineHeight: "38.6px", color: "#000" }}>
        {dstLetters.map((ch, i) => (
          <div key={i} style={{ height: ch ? 38.6 : 35.7 }}>
            {ch}
          </div>
        ))}
      </div>
      {noteBoxes.map((n) => (
        <div
          key={n.lines[0]}
          style={{
            position: "absolute",
            left: n.x,
            top: n.y,
            width: n.w,
            height: n.h,
            background: "#fff",
            fontFamily: FONT,
            fontSize: 17,
            lineHeight: "21.2px",
            color: "#111",
            whiteSpace: "nowrap",
            paddingTop: 1,
          }}
        >
          {n.lines.map((l) => (
            <div key={l}>{l}</div>
          ))}
        </div>
      ))}
      {descriptions.map((t) => {
        const lh = t.head ? 32 : t.small ? 22.8 : 24;
        return (
          <div
            key={t.y}
            style={{
              position: "absolute",
              left: t.x ?? 588,
              top: t.y - lh / 2,
              fontFamily: FONT,
              color: "#111",
              whiteSpace: "pre",
              fontSize: t.head ? 27 : t.small ? 18.8 : t.bold ? 20.8 : 20.4,
              fontWeight: t.head || t.bold ? 700 : 400,
              lineHeight: `${lh}px`,
            }}
          >
            {t.head ?? t.lines!.map((l) => <div key={l}>{l}</div>)}
          </div>
        );
      })}
    </div>
  );
}
